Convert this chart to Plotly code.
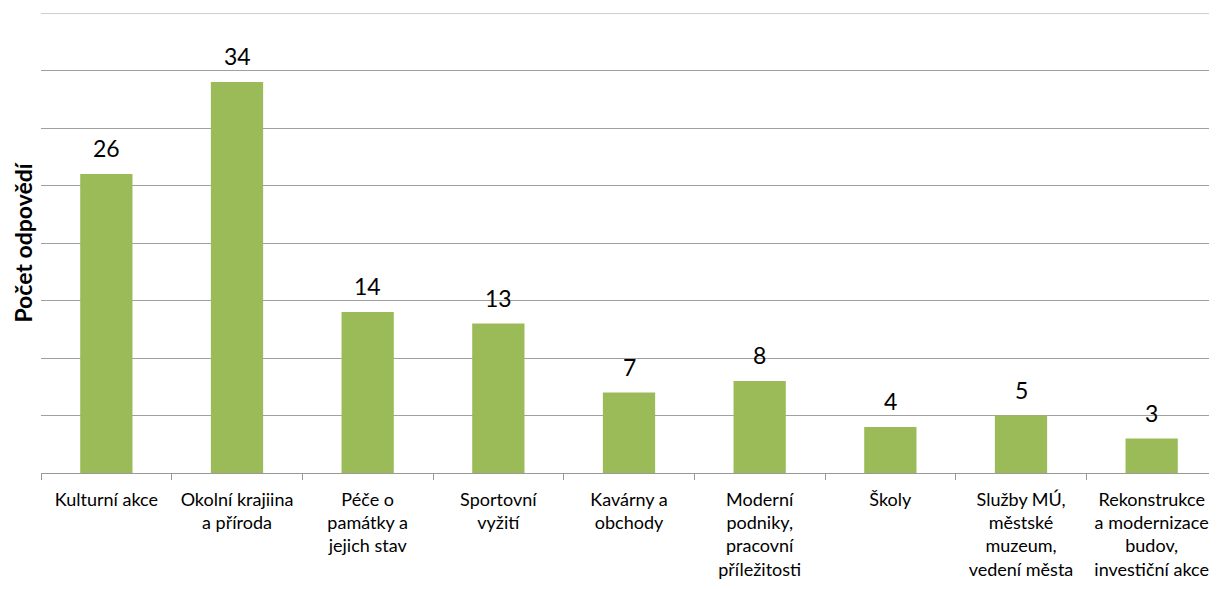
import plotly.graph_objects as go

categories = [
    "Kulturní akce",
    "Okolní krajiina<br>a příroda",
    "Péče o<br>památky a<br>jejich stav",
    "Sportovní<br>vyžití",
    "Kavárny a<br>obchody",
    "Moderní<br>podniky,<br>pracovní<br>příležitosti",
    "Školy",
    "Služby MÚ,<br>městské<br>muzeum,<br>vedení města",
    "Rekonstrukce<br>a modernizace<br>budov,<br>investiční akce",
]
values = [26, 34, 14, 13, 7, 8, 4, 5, 3]
y_max = 40

FONT = "Lato"

fig = go.Figure(
    go.Bar(
        x=categories,
        y=values,
        marker=dict(color="#9BBB59", line=dict(width=0)),
        cliponaxis=False,
    )
)

for c, v in zip(categories, values):
    fig.add_annotation(
        x=c, y=v, xref="x", yref="y",
        text=str(v), showarrow=False,
        yanchor="bottom", yshift=10,
        font=dict(family=FONT, size=23, color="#000000"),
    )

# top gridline at the range edge
fig.add_shape(
    type="line", xref="paper", yref="y",
    x0=0, x1=1, y0=y_max, y1=y_max,
    line=dict(color="#A0A0A0", width=1),
)

# page body has an 8px margin, so the figure is drawn 8px smaller
fig.update_layout(
    width=1209,
    height=581,
    margin=dict(l=33, r=0, t=5, b=116),
    paper_bgcolor="white",
    plot_bgcolor="white",
    bargap=0.6,
    showlegend=False,
    font=dict(family=FONT, size=18, color="#000000"),
)

fig.update_xaxes(
    type="category",
    showline=True,
    linecolor="#999999",
    linewidth=1,
    ticks="outside",
    tickson="boundaries",
    ticklen=6,
    tickcolor="#999999",
    tickfont=dict(family=FONT, size=18, color="#000000"),
    ticklabelstandoff=10,
    showgrid=False,
)

fig.update_yaxes(
    range=[0, y_max],
    tick0=0,
    dtick=5,
    showticklabels=False,
    showgrid=True,
    gridcolor="#A0A0A0",
    gridwidth=1,
    zeroline=False,
    title=dict(text="<b>Počet odpovědí</b>", font=dict(family=FONT, size=23, color="#000000"), standoff=0),
)

fig.write_html("out.html")
